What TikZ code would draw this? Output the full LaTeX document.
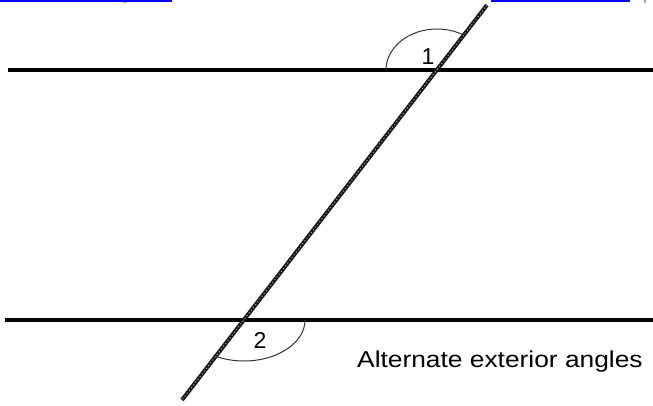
\documentclass[tikz,border=0pt]{standalone}
\usepackage{fontspec}
\setmainfont{Liberation Sans}
\usetikzlibrary{calc}
\begin{document}
\begin{tikzpicture}[x=1pt,y=-1pt,
  parline/.style={line width=3.5pt},
  transline/.style={line width=4pt,black!90},
  transdots/.style={line width=1pt,gray!70,dash pattern=on 1pt off 2.5pt},
  anglearc/.style={line width=1pt,black!80},
  lbl/.style={font=\fontsize{23}{26}\selectfont,inner sep=0pt},
  link/.style={line width=1.6pt,blue}]
\useasboundingbox (0,0) rectangle (653,405);
% link underlines at the top
\coordinate (l1a) at (0,0.8);
\coordinate (l1b) at (172,0.8);
\coordinate (l2a) at (491,0.8);
\coordinate (l2b) at (630,0.8);
\draw[link] (l1a) -- (l1b);
\fill[blue] (125,1) ellipse (3.5 and 1.5);
\draw[link] (l2a) -- (l2b);
\fill[gray!70] (644,0) rectangle (646,3);
% parallel lines
\coordinate (t1) at (8,70);
\coordinate (t2) at (653,70);
\coordinate (b1) at (5,320);
\coordinate (b2) at (653,320);
\draw[parline] (t1) -- (t2);
\draw[parline] (b1) -- (b2);
% transversal
\coordinate (tr1) at (487,5);
\coordinate (tr2) at (182,400);
\draw[transline] (tr1) -- (tr2);
\draw[transdots] (tr1) -- (tr2);
% intersections
\coordinate (p1) at (437,70);
\coordinate (p2) at (244,320);
% angle arcs
\draw[anglearc] (p1) ++(-51,0) arc[start angle=180,end angle=60,x radius=51,y radius=-41];
\draw[anglearc] (p2) ++(61,0) arc[start angle=0,end angle=-120,x radius=61,y radius=-41];
% labels
\node[lbl] (n1) at (428,57) {1};
\node[lbl] (n2) at (260,340) {2};
\node[lbl,anchor=west] (cap) at (357,362) {\scalebox{1.145}[1]{Alternate exterior angles}};
\end{tikzpicture}
\end{document}
